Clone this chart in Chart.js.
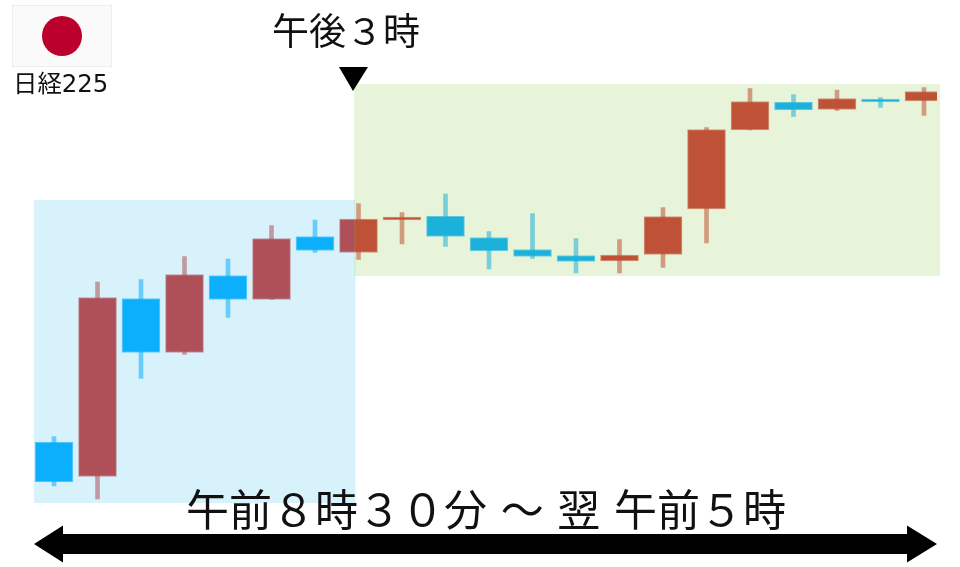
<!DOCTYPE html>
<html lang="ja">
<head>
<meta charset="utf-8">
<title>日経225</title>
<script src="https://cdn.jsdelivr.net/npm/chart.js@4"></script>
<style>
  html, body { margin: 0; padding: 0; background: #fff; }
  #wrap { position: relative; width: 960px; height: 567px; overflow: hidden;
    font-family: "DejaVu Sans", "Noto Sans CJK JP", sans-serif; color: #111; }
  #chart { position: absolute; left: 0; top: 0; }
  #shapes { position: absolute; left: 0; top: 0; }
  .label { position: absolute; white-space: pre; line-height: 1; }
  #name { left: 13px; top: 72px; font-size: 24.4px; }
  #close { left: 272px; top: 14px; font-size: 37px; }
  #hours { left: 186px; top: 490px; font-size: 43px; }
</style>
</head>
<body>
<div id="wrap">
  <canvas id="chart" width="960" height="567"></canvas>
  <svg id="shapes" width="960" height="567">
    <rect x="12.5" y="5.5" width="99" height="61" fill="#fafafa" stroke="#eeeeee"/>
    <circle cx="62" cy="36" r="20" fill="#bc002d"/>
    <polygon points="339,67 368,67 353,91" fill="#000"/>
    <polygon points="34,544 63,525.5 63,534 907,534 907,525.5 937,544 907,562.5 907,554 63,554 63,562.5" fill="#000"/>
  </svg>
  <div class="label" id="name">日経225</div>
  <div class="label" id="close">午後３時</div>
  <div class="label" id="hours">午前８時３０分 ～ 翌 午前５時</div>
</div>
<script>
var candles = ['1','2','3','4','5','6','7','8','9','10','11','12','13','14','15','16','17','18','19','20','21'];
var opens  = [61, 26.5, 204.5, 150.5, 227.5, 203.5, 266.5, 250.5, 283, 287, 265.5, 253.5, 247.5, 242, 248.5, 294, 373, 401, 393.5, 404, 402];
var closes = [21, 205.5, 150.5, 228.5, 203.5, 264.5, 252.5, 284, 286, 266.5, 252, 246.5, 241.5, 248, 286.5, 373.5, 401.5, 393, 404.5, 401, 411.5];
var highs  = [66.5, 221, 223.5, 246.5, 244, 277.5, 283, 299.5, 290.5, 309, 271.5, 289.5, 264.5, 263.5, 295.5, 375.5, 414.5, 408.5, 413, 405.5, 415.5];
var lows   = [17, 4, 124.5, 148.5, 185.5, 203.5, 250.5, 243.5, 259, 256.5, 234, 244.5, 230, 230, 235.5, 260, 373, 386.5, 392.5, 395.5, 387.5];

// sessions, in candle index and price units: [from, to, low, high, colour]
var morning = [-0.46, 6.93, 0, 303, 'rgba(60, 190, 240, 0.2)'];
var evening = [6.9, 20.37, 227, 419, 'rgba(140, 200, 70, 0.2)'];

function pick(i, up, down, alpha) {
  var c = closes[i] >= opens[i] ? up : down;
  return 'rgba(' + c + ',' + alpha + ')';
}

var sessionPlugin = {
  id: 'sessions',
  afterDatasetsDraw: function (chart) {
    var ctx = chart.ctx, x = chart.scales.x, y = chart.scales.y;
    [morning, evening].forEach(function (s) {
      var left = x.getPixelForValue(s[0]), right = x.getPixelForValue(s[1]);
      var top = y.getPixelForValue(s[3]), bottom = y.getPixelForValue(s[2]);
      ctx.save();
      ctx.fillStyle = s[4];
      ctx.fillRect(left, top, right - left, bottom - top);
      ctx.restore();
    });
  }
};

var up = '204,52,50', down = '0,172,255';

new Chart(document.getElementById('chart').getContext('2d'), {
  type: 'bar',
  data: {
    labels: candles,
    datasets: [{
      data: candles.map(function (c, i) { return [opens[i], closes[i]]; }),
      barThickness: 38,
      grouped: false,
      order: 1,
      borderWidth: 1,
      borderSkipped: false,
      // last body is cut short on the right in the original
      clip: { left: 5, right: -8.75, top: 0, bottom: 0 },
      backgroundColor: candles.map(function (c, i) { return pick(i, up, down, 1); }),
      borderColor: candles.map(function (c, i) { return pick(i, up, down, 0.55); })
    }, {
      data: candles.map(function (c, i) { return [lows[i], highs[i]]; }),
      barThickness: 4,
      grouped: false,
      order: 2,
      backgroundColor: candles.map(function (c, i) { return pick(i, up, down, 0.55); })
    }]
  },
  options: {
    responsive: false,
    animation: false,
    layout: { padding: { left: 32.25, right: 14.25, top: 0, bottom: 0 } },
    scales: {
      x: { display: false },
      y: { display: false, min: -64, max: 503 }
    },
    plugins: { legend: { display: false }, tooltip: { enabled: false } }
  },
  plugins: [sessionPlugin]
});
</script>
</body>
</html>
